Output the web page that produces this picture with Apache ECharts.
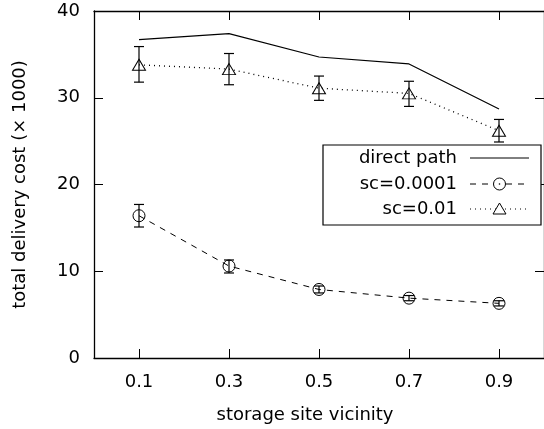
<!DOCTYPE html>
<html>
<head>
<meta charset="utf-8">
<script src="https://cdn.jsdelivr.net/npm/echarts@6/dist/echarts.min.js"></script>
<style>
  html, body { margin: 0; padding: 0; background: #fff; }
  #chart { width: 544px; height: 429px; }
</style>
</head>
<body>
<div id="chart"></div>
<script>
    "use strict";

    // ------------------------------
    // Data
    // ------------------------------
    var xTicks = [0.1, 0.3, 0.5, 0.7, 0.9];
    var yTicks = [0, 10, 20, 30, 40];
    var seriesNames = ['direct path', 'sc=0.0001', 'sc=0.01'];

    var directPath = [36.7, 37.4, 34.7, 33.9, 28.7];
    var sc0001 = [16.4, 10.6, 7.9, 6.9, 6.3];
    var sc0001Low = [15.1, 9.8, 7.5, 6.6, 6.0];
    var sc0001High = [17.7, 11.3, 8.3, 7.2, 6.6];
    var sc001 = [33.8, 33.3, 31.1, 30.5, 26.2];
    var sc001Low = [31.8, 31.5, 29.7, 29.0, 24.9];
    var sc001High = [35.9, 35.1, 32.5, 31.9, 27.5];

    var font = 'DejaVu Sans';
    var fs = 18;
    var ink = '#000';

    function pairs(ys) {
        return xTicks.map(function (x, i) { return [x, ys[i]]; });
    }
    function errData(lo, hi) {
        return xTicks.map(function (x, i) { return [x, lo[i], hi[i]]; });
    }

    // error bars: vertical stroke plus two caps
    function renderErr(params, api) {
        var top = api.coord([api.value(0), api.value(2)]);
        var bot = api.coord([api.value(0), api.value(1)]);
        var w = 5;
        var st = { stroke: ink, lineWidth: 1.2, fill: null };
        return {
            type: 'group',
            children: [
                { type: 'line', shape: { x1: top[0], y1: top[1], x2: bot[0], y2: bot[1] }, style: st },
                { type: 'line', shape: { x1: top[0] - w, y1: top[1], x2: top[0] + w, y2: top[1] }, style: st },
                { type: 'line', shape: { x1: bot[0] - w, y1: bot[1], x2: bot[0] + w, y2: bot[1] }, style: st }
            ]
        };
    }

    // ------------------------------
    // Legend (gnuplot style: text, then sample on the right)
    // ------------------------------
    var lgLeft = 323, lgTop = 145, lgW = 218, lgH = 80;
    var rowY = [158, 184, 209];
    var textRight = 457, sampleX1 = 470, sampleX2 = 529;
    var sampleStyles = [
        { dash: null, symbol: null },
        { dash: [6, 6], symbol: 'circle' },
        { dash: [1, 4], symbol: 'triangle' }
    ];
    var legendGraphics = [{
        type: 'rect',
        shape: { x: lgLeft, y: lgTop, width: lgW, height: lgH },
        style: { fill: '#fff', stroke: ink, lineWidth: 1.2 },
        z: 100
    }];
    seriesNames.forEach(function (name, i) {
        var y = rowY[i];
        legendGraphics.push({
            type: 'text', z: 101,
            style: { text: name, x: textRight, y: y, align: 'right', verticalAlign: 'middle',
                     font: fs + 'px "' + font + '"', fill: ink }
        });
        legendGraphics.push({
            type: 'line', z: 101,
            shape: { x1: sampleX1, y1: y, x2: sampleX2, y2: y },
            style: { stroke: ink, lineWidth: 1, lineDash: sampleStyles[i].dash }
        });
        var cx = (sampleX1 + sampleX2) / 2;
        if (sampleStyles[i].symbol === 'circle') {
            legendGraphics.push({
                type: 'circle', z: 102,
                shape: { cx: cx, cy: y, r: 6 },
                style: { fill: '#fff', stroke: ink, lineWidth: 1 }
            });
            legendGraphics.push({
                type: 'circle', z: 103,
                shape: { cx: cx, cy: y, r: 0.8 },
                style: { fill: ink }
            });
        } else if (sampleStyles[i].symbol === 'triangle') {
            legendGraphics.push({
                type: 'polygon', z: 102,
                shape: { points: [[cx, y - 6], [cx + 6.5, y + 5], [cx - 6.5, y + 5]] },
                style: { fill: '#fff', stroke: ink, lineWidth: 1 }
            });
        }
    });

    var chart = echarts.init(document.getElementById('chart'));

    var axisLine = { show: true, onZero: false, lineStyle: { color: ink, width: 1.3 } };
    function ticks(vals) {
        return { show: true, inside: true, length: 9, customValues: vals,
                 lineStyle: { color: ink, width: 1 } };
    }

    var option = {
        backgroundColor: '#fff',
        animation: false,
        textStyle: { fontFamily: font },
        grid: { left: 94, top: 11, right: -9, bottom: 71, containLabel: false },
        xAxis: [{
            type: 'value', min: 0, max: 1, position: 'bottom',
            name: 'storage site vicinity', nameLocation: 'middle', nameGap: 48,
            nameTextStyle: { fontSize: fs, color: ink, fontFamily: font, padding: [0, 28, 0, 0] },
            axisLine: axisLine, splitLine: { show: false },
            axisTick: ticks(xTicks),
            axisLabel: { customValues: xTicks, fontSize: fs, color: ink, margin: 15, fontFamily: font,
                         formatter: function (v) { return v.toFixed(1); } }
        }, {
            type: 'value', min: 0, max: 1, position: 'top',
            axisLine: axisLine, splitLine: { show: false },
            axisTick: ticks(xTicks),
            axisLabel: { show: false }
        }],
        yAxis: [{
            type: 'value', min: 0, max: 40, interval: 10, position: 'left',
            name: 'total delivery cost (× 1000)', nameLocation: 'middle', nameGap: 65,
            nameTextStyle: { fontSize: fs, color: ink, fontFamily: font },
            axisLine: axisLine, splitLine: { show: false },
            axisTick: ticks(yTicks),
            axisLabel: { customValues: yTicks, fontSize: fs, color: ink, margin: 14, fontFamily: font }
        }, {
            type: 'value', min: 0, max: 40, interval: 10, position: 'right',
            axisLine: axisLine, splitLine: { show: false },
            axisTick: ticks(yTicks),
            axisLabel: { show: false }
        }],
        graphic: legendGraphics,
        series: [{
            name: seriesNames[0],
            type: 'line',
            data: pairs(directPath),
            showSymbol: false,
            symbol: 'none',
            lineStyle: { color: ink, width: 1.2 },
            z: 3
        }, {
            name: seriesNames[1] + ' err',
            type: 'custom',
            data: errData(sc0001Low, sc0001High),
            renderItem: renderErr,
            z: 4
        }, {
            name: seriesNames[1],
            type: 'line',
            data: pairs(sc0001),
            symbol: 'circle',
            symbolSize: 12,
            itemStyle: { color: 'transparent', borderColor: ink, borderWidth: 1 },
            lineStyle: { color: ink, width: 1, type: [6, 6] },
            z: 5
        }, {
            name: seriesNames[2] + ' err',
            type: 'custom',
            data: errData(sc001Low, sc001High),
            renderItem: renderErr,
            z: 4
        }, {
            name: seriesNames[2],
            type: 'line',
            data: pairs(sc001),
            symbol: 'triangle',
            symbolSize: [13, 11],
            itemStyle: { color: 'transparent', borderColor: ink, borderWidth: 1 },
            lineStyle: { color: ink, width: 1.3, type: [1, 4] },
            z: 5
        }]
    };

    chart.setOption(option);
</script>
</body>
</html>
